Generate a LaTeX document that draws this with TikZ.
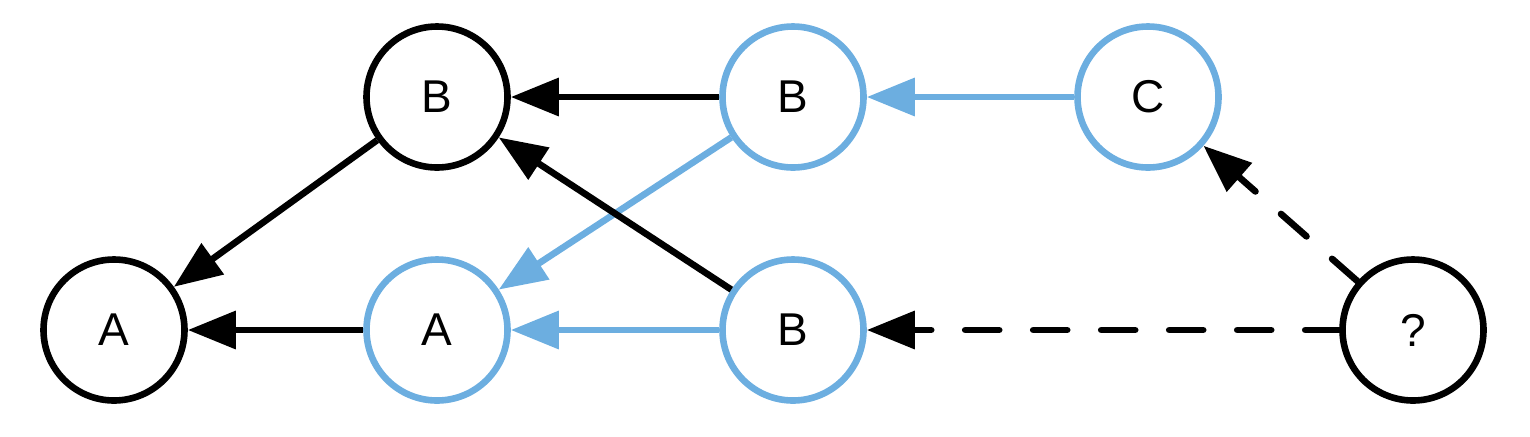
\documentclass[tikz,border=0pt]{standalone}
\usepackage{fontspec}
\setmainfont{Liberation Sans}
\usetikzlibrary{arrows.meta}
\definecolor{lblue}{RGB}{108,174,224}
\begin{document}
\begin{tikzpicture}[x=0.5pt,y=-0.5pt,
  vtx/.style={circle,draw=black,line width=3.3pt,minimum size=70.5pt,inner sep=0pt,font=\fontsize{23}{27}\selectfont},
  bvtx/.style={vtx,draw=lblue},
  edge/.style={line width=3.3pt,-{Triangle[length=24pt,width=18.5pt]}},
  bedge/.style={edge,draw=lblue},
  dedge/.style={edge,line cap=round,dash pattern=on 17pt off 17pt}]
\useasboundingbox (0,0) rectangle (1530,436);
\node[vtx] (a1) at (114,330) {A};
\node[vtx] (b1) at (437,97) {B};
\node[bvtx] (a2) at (437,330) {A};
\node[bvtx] (b2) at (793,97) {B};
\node[bvtx] (b3) at (793,330) {B};
\node[bvtx] (c) at (1148,97) {C};
\node[vtx] (q) at (1413,330) {?};
\draw[bedge] (b2) -- (a2);
\draw[bedge] (b3) -- (a2);
\draw[bedge] (c) -- (b2);
\draw[edge] (b1) -- (a1);
\draw[edge] (a2) -- (a1);
\draw[edge] (b2) -- (b1);
\draw[edge] (b3) -- (b1);
\draw[dedge] (q) -- (c);
\draw[dedge] (q) -- (b3);
\end{tikzpicture}
\end{document}
